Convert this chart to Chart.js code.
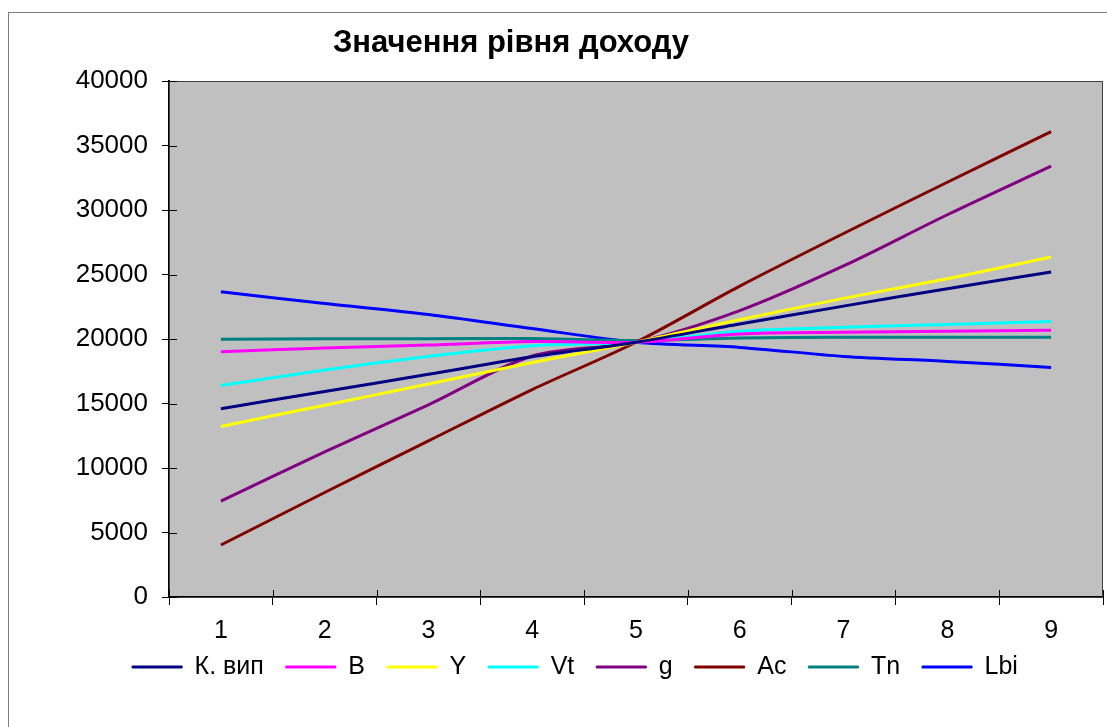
<!DOCTYPE html>
<html>
<head>
<meta charset="utf-8">
<script src="https://cdn.jsdelivr.net/npm/chart.js@4/dist/chart.umd.min.js"></script>
<style>
  html, body { margin: 0; padding: 0; background: #ffffff; }
  #wrap { position: relative; width: 1107px; height: 727px; }
</style>
</head>
<body>
<div id="wrap"><canvas id="c" width="1107" height="727"></canvas></div>
<script>
// Income level by period
const periods = ['1', '2', '3', '4', '5', '6', '7', '8', '9'];

const kVyp = [14600, 15930, 17260, 18620, 19750, 21170, 22550, 23900, 25200];
const seriesB = [19020, 19300, 19530, 19800, 19750, 20390, 20520, 20600, 20680];
const seriesY = [13220, 14870, 16510, 18180, 19750, 21500, 23150, 24670, 26360];
const seriesVt = [16390, 17600, 18650, 19470, 19750, 20600, 20910, 21120, 21350];
const seriesG = [7440, 11250, 14900, 18680, 19750, 22200, 25660, 29630, 33400];
const seriesAc = [4030, 8100, 12100, 16080, 19750, 24100, 28180, 32150, 36070];
const seriesTn = [19980, 20010, 20020, 20030, 19880, 20080, 20130, 20130, 20130];
const seriesLbi = [23660, 22750, 21900, 20810, 19750, 19350, 18650, 18260, 17800];

const seriesNames = ['К. вип', 'B', 'Y', 'Vt', 'g', 'Ac', 'Tn', 'Lbi'];
const seriesColors = ['#000080', '#FF00FF', '#FFFF00', '#00FFFF', '#800080', '#800000', '#008080', '#0000FF'];
const seriesValues = [kVyp, seriesB, seriesY, seriesVt, seriesG, seriesAc, seriesTn, seriesLbi];

const yTickStep = 5000;
const yMax = 40000;

const FONT = "'Liberation Sans', Arial, sans-serif";

// White page with the grey outer frame, and the grey plot background
const frame = {
  id: 'frame',
  beforeDraw(chart) {
    const ctx = chart.ctx;
    const a = chart.chartArea;
    ctx.save();
    ctx.fillStyle = '#ffffff';
    ctx.fillRect(0, 0, chart.width, chart.height);
    ctx.strokeStyle = '#7f7f7f';
    ctx.lineWidth = 1;
    ctx.strokeRect(8.5, 12.5, chart.width + 20, chart.height + 20);
    ctx.fillStyle = '#C0C0C0';
    ctx.fillRect(a.left, a.top, a.right - a.left, a.bottom - a.top);
    ctx.restore();
  },
  afterLayout(chart) {
    // title and legend sit where the sheet layout places them
    const t = chart.titleBlock;
    if (t) { t.left = 0; t.right = 1022; t.width = 1022; }
    const l = chart.legend;
    if (l) {
      const c = 575, half = 540;
      l.left = c - half; l.right = c + half; l.width = 2 * half;
      l.top -= 14.5; l.bottom -= 14.5;
    }
  },
  afterDraw(chart) {
    const ctx = chart.ctx;
    const a = chart.chartArea;
    const xs = chart.scales.x, ys = chart.scales.y;
    ctx.save();
    ctx.strokeStyle = '#404040';
    ctx.lineWidth = 1;
    ctx.strokeRect(Math.round(a.left) + 0.5, Math.round(a.top) + 0.5, Math.round(a.right - a.left) - 1, Math.round(a.bottom - a.top));
    // tick marks crossing into the plot
    ctx.strokeStyle = '#000000';
    ctx.beginPath();
    const n = periods.length;
    for (let i = 0; i <= n; i++) {
      const px = Math.round(xs.left + i * (xs.right - xs.left) / n) + 0.5;
      ctx.moveTo(px, a.bottom);
      ctx.lineTo(px, a.bottom - 7);
    }
    for (let v = 0; v <= yMax; v += yTickStep) {
      const py = Math.round(ys.getPixelForValue(v)) + 0.5;
      ctx.moveTo(a.left, py);
      ctx.lineTo(a.left + 8, py);
    }
    ctx.stroke();
    ctx.restore();
  }
};

const datasets = seriesNames.map((name, i) => ({
  label: name,
  data: seriesValues[i],
  borderColor: seriesColors[i],
  backgroundColor: seriesColors[i],
  borderWidth: 3,
  pointRadius: 0,
  pointHoverRadius: 0,
  tension: 0.3,
  fill: false
}));

new Chart(document.getElementById('c'), {
  type: 'line',
  data: { labels: periods, datasets },
  plugins: [frame],
  options: {
    responsive: false,
    animation: false,
    layout: { padding: { left: 8, right: 4, top: 12, bottom: 23 } },
    plugins: {
      title: {
        display: true,
        text: 'Значення рівня доходу',
        color: '#000000',
        font: { family: FONT, size: 31, weight: 'bold' },
        padding: { top: 12.4, bottom: 19.4 }
      },
      legend: {
        display: true,
        position: 'bottom',
        labels: {
          color: '#000000',
          font: { family: FONT, size: 25 },
          boxWidth: 50,
          boxHeight: 2,
          padding: 22,
          generateLabels(chart) {
            const items = Chart.defaults.plugins.legend.labels.generateLabels(chart);
            items.forEach(it => { it.lineWidth = 1; });
            return items;
          }
        }
      },
      tooltip: { enabled: false }
    },
    scales: {
      x: {
        offset: true,
        grid: { display: true, drawOnChartArea: false, drawTicks: true, tickLength: 8, color: '#000000', offset: true },
        border: { display: true, color: '#000000', width: 2 },
        ticks: { color: '#000000', font: { family: FONT, size: 25 }, padding: 11, maxRotation: 0, autoSkip: false },
        afterFit(scale) { scale.height = 50; }
      },
      y: {
        min: 0,
        max: yMax,
        grid: { display: true, drawOnChartArea: false, drawTicks: true, tickLength: 7, color: '#000000' },
        border: { display: true, color: '#000000', width: 2 },
        ticks: {
          stepSize: yTickStep,
          color: '#000000',
          font: { family: FONT, size: 26 },
          padding: 14,
          callback: (value) => String(value)
        },
        afterFit(scale) { scale.width = 161; }
      }
    }
  }
});
</script>
</body>
</html>
